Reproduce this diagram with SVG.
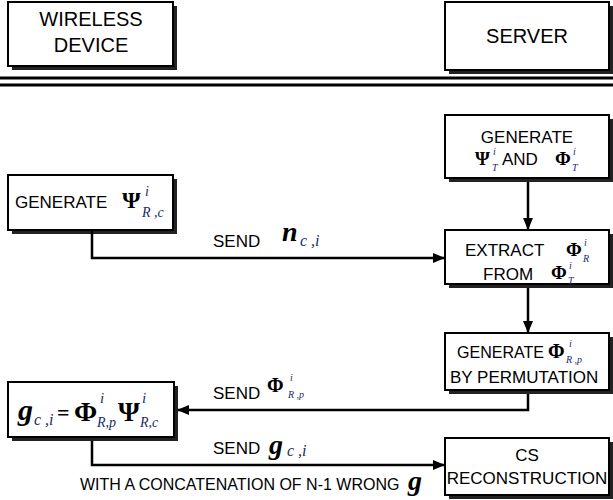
<svg xmlns="http://www.w3.org/2000/svg" width="613" height="500" viewBox="0 0 613 500">
<defs>
<marker id="ah" markerUnits="userSpaceOnUse" markerWidth="12" markerHeight="10" refX="11" refY="5" orient="auto">
<path d="M0,0 L12,5 L0,10 z" fill="#000"/>
</marker>
<style>
.box{fill:#fff;stroke:#000;stroke-width:2}
.sh{fill:#222}
.t{font-family:"Liberation Sans",Arial,sans-serif;font-size:17px;fill:#000}
.h{font-size:20px}
.w{font-size:16px}
.m{font-family:"Liberation Serif","Times New Roman",serif;font-weight:bold;fill:#000}
.mi{font-family:"Liberation Serif","Times New Roman",serif;font-weight:bold;font-style:italic;fill:#000}
.s{font-family:"Liberation Serif","Times New Roman",serif;font-style:italic;fill:#1c2a6e}
.ln{stroke:#000;stroke-width:2.5;fill:none}
.dl{stroke:#000;stroke-width:3}
</style>
</defs>
<rect width="613" height="500" fill="#fff"/>
<g id="divider">
<line class="dl" x1="0" y1="78" x2="613" y2="78"/>
<line class="dl" x1="0" y1="85" x2="613" y2="85"/>
</g>
<g id="wireless">
<rect class="sh" x="12" y="6" width="165" height="64"/>
<rect class="box" x="8" y="2" width="165" height="64"/>
<text class="t h" x="91" y="26" text-anchor="middle">WIRELESS</text>
<text class="t h" x="91" y="52" text-anchor="middle">DEVICE</text>
</g>
<g id="server">
<rect class="sh" x="449" y="6" width="164" height="68"/>
<rect class="box" x="445" y="2" width="164" height="68"/>
<text class="t h" x="527" y="43" text-anchor="middle">SERVER</text>
</g>
<g id="genT">
<rect class="sh" x="449" y="119" width="164" height="63"/>
<rect class="box" x="445" y="115" width="164" height="63"/>
<text class="t" x="527" y="143" text-anchor="middle">GENERATE</text>
<text class="m" x="475" y="165" font-size="19">Ψ</text>
<text class="s" x="493" y="155" font-size="10">i</text>
<text class="s" x="492" y="171" font-size="10">T</text>
<text class="t" x="502" y="165">AND</text>
<text class="m" x="555" y="165" font-size="19">Φ</text>
<text class="s" x="573" y="155" font-size="10">i</text>
<text class="s" x="572" y="171" font-size="10">T</text>
</g>
<g id="genRc">
<rect class="sh" x="12" y="179" width="165" height="55"/>
<rect class="box" x="8" y="175" width="165" height="55"/>
<text class="t" x="15" y="208">GENERATE</text>
<text class="m" x="122" y="208" font-size="24">Ψ</text>
<text class="s" x="145" y="196" font-size="14">i</text>
<text class="s" x="142" y="217" font-size="14">R ,c</text>
</g>
<g id="extract">
<rect class="sh" x="449" y="234" width="164" height="54"/>
<rect class="box" x="445" y="230" width="164" height="54"/>
<text class="t" x="465" y="256">EXTRACT</text>
<text class="m" x="566" y="256" font-size="19">Φ</text>
<text class="s" x="584" y="246" font-size="10">i</text>
<text class="s" x="583" y="262" font-size="10">R</text>
<text class="t" x="483" y="280">FROM</text>
<text class="m" x="551" y="279" font-size="19">Φ</text>
<text class="s" x="569" y="269" font-size="10">i</text>
<text class="s" x="568" y="284" font-size="10">T</text>
</g>
<g id="genRp">
<rect class="sh" x="449" y="337" width="164" height="57"/>
<rect class="box" x="445" y="333" width="164" height="57"/>
<text class="t" x="457" y="358" textLength="87" lengthAdjust="spacingAndGlyphs">GENERATE</text>
<text class="m" x="548" y="358" font-size="20">Φ</text>
<text class="s" x="569" y="347" font-size="10">i</text>
<text class="s" x="566" y="363" font-size="10">R ,p</text>
<text class="t" x="450" y="383">BY PERMUTATION</text>
</g>
<g id="gbox">
<rect class="sh" x="12" y="386" width="166" height="55"/>
<rect class="box" x="8" y="382" width="166" height="55"/>
<text class="mi" x="18" y="420" font-size="30">g</text>
<text class="s" x="34" y="425" font-size="16">c ,i</text>
<text class="m" x="57" y="420" font-size="22">=</text>
<text class="m" x="74" y="421" font-size="28">Φ</text>
<text class="s" x="100" y="403" font-size="15">i</text>
<text class="s" x="97" y="427" font-size="14">R,p</text>
<text class="m" x="118" y="421" font-size="28">Ψ</text>
<text class="s" x="142" y="403" font-size="15">i</text>
<text class="s" x="140" y="427" font-size="14">R,c</text>
</g>
<g id="cs">
<rect class="sh" x="449" y="442" width="164" height="57"/>
<rect class="box" x="445" y="438" width="164" height="57"/>
<text class="t" x="527" y="461" text-anchor="middle">CS</text>
<text class="t" x="527" y="484" text-anchor="middle">RECONSTRUCTION</text>
</g>
<g id="connectors">
<path class="ln" d="M528,182 V229" marker-end="url(#ah)"/>
<path class="ln" d="M92,230 V258 H444" marker-end="url(#ah)"/>
<path class="ln" d="M528,288 V332" marker-end="url(#ah)"/>
<path class="ln" d="M528,394 V410 H178" marker-end="url(#ah)"/>
<path class="ln" d="M92,441 V465 H444" marker-end="url(#ah)"/>
</g>
<g id="labels">
<text class="t" x="213" y="247">SEND</text>
<text class="mi" x="282" y="241" font-size="28">n</text>
<text class="s" x="300" y="246" font-size="16">c ,i</text>
<text class="t" x="213" y="399">SEND</text>
<text class="m" x="267" y="392" font-size="20">Φ</text>
<text class="s" x="290" y="381" font-size="10">i</text>
<text class="s" x="288" y="398" font-size="10">R ,p</text>
<text class="t" x="213" y="454">SEND</text>
<text class="mi" x="269" y="454" font-size="28">g</text>
<text class="s" x="287" y="456" font-size="16">c ,i</text>
<text class="t w" x="80" y="490">WITH A CONCATENATION OF N-1 WRONG</text>
<text class="mi" x="408" y="490" font-size="28">g</text>
</g>
</svg>
